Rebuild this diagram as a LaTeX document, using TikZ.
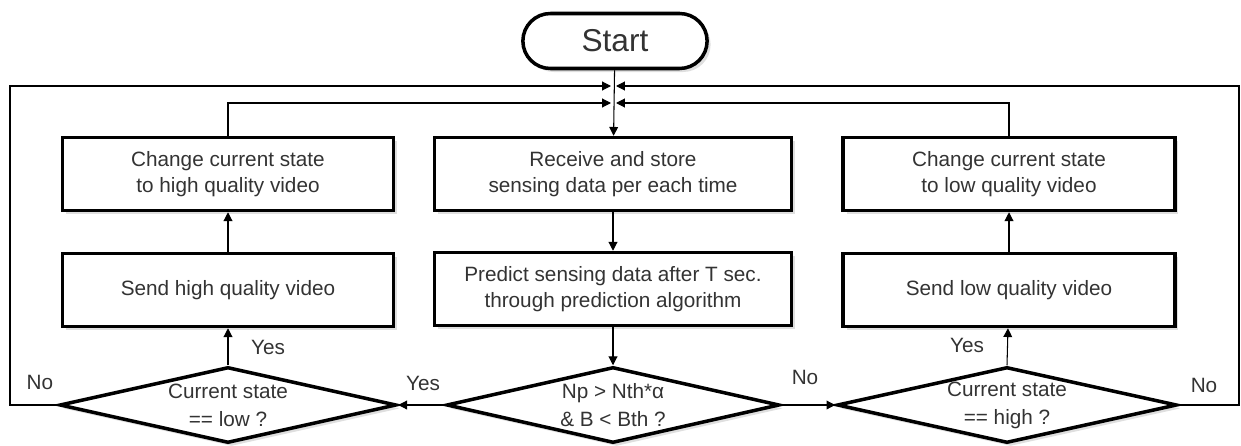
\documentclass[tikz,border=0pt]{standalone}
\usepackage{fontspec}
\setmainfont{Liberation Sans}
\usepackage{tikz}
\usetikzlibrary{arrows.meta,shapes.geometric,shapes.misc,shadows,calc}
\definecolor{inktext}{RGB}{51,51,51}
\tikzset{
  flowbox/.style={draw, line width=2pt, fill=white, minimum width=#1, minimum height=1.46cm,
    align=center, font=\fontsize{11.8}{14.5}\selectfont, text=inktext,
    drop shadow={opacity=0.25, shadow xshift=2pt, shadow yshift=-2pt}},
  decide/.style={draw, diamond, line width=2pt, fill=white, inner sep=0pt,
    minimum width=#1, minimum height=1.52cm,
    drop shadow={opacity=0.25, shadow xshift=2pt, shadow yshift=-2pt}},
  qtext/.style={align=center, font=\fontsize{11.8}{16}\selectfont, text=inktext},
  answer/.style={font=\fontsize{11.8}{14}\selectfont, text=inktext},
  flow/.style={line width=0.6pt, -{Triangle[length=5pt,width=5pt]}},
}
\begin{document}
\begin{tikzpicture}[x=0.02cm, y=-0.02cm]
  \useasboundingbox (0,0) rectangle (1241,446);

  % Start
  \node[draw, rounded rectangle, line width=2pt, fill=white, minimum width=3.92cm,
    minimum height=1.1cm, font=\fontsize{18}{20}\selectfont, text=inktext,
    drop shadow={opacity=0.25, shadow xshift=2pt, shadow yshift=-2pt}]
    (start) at (615,41) {Start};

  % Middle column
  \node[flowbox=7.14cm] (recv) at (613,174) {Receive and store\\sensing data per each time};
  \node[flowbox=7.14cm] (pred) at (613,289) {Predict sensing data after T sec.\\through prediction algorithm};
  \node[decide=6.66cm, label={[qtext]center:Np > Nth*α\\\& B < Bth ?}] (dmid) at (613,405) {};

  % Left column
  \node[flowbox=6.62cm] (chghi) at (228,174) {Change current state\\to high quality video};
  \node[flowbox=6.62cm] (sendhi) at (228,290) {Send high quality video};
  \node[decide=6.74cm, label={[qtext]center:Current state\\== low ?}] (dlow) at (228,405) {};

  % Right column
  \node[flowbox=6.64cm] (chglo) at (1009,174) {Change current state\\to low quality video};
  \node[flowbox=6.64cm] (sendlo) at (1009,290) {Send low quality video};
  \node[decide=6.8cm, label={[qtext]center:Current state\\== high ?}] (dhigh) at (1007,405) {};

  % Junction points
  \coordinate (jtopl) at (611,86);
  \coordinate (jtopr) at (616,86);
  \coordinate (jmidl) at (611,103);
  \coordinate (jmidr) at (616,103);

  % Main flow
  \draw[flow] (start) -- (recv);
  \draw[flow] (recv) -- (pred);
  \draw[flow] (pred) -- (dmid);
  \draw[flow] (dmid.west) -- (dlow.east);
  \draw[flow] (dmid.east) -- (dhigh.west);
  \draw[flow] (dlow.north) -- (sendhi);
  \draw[flow] (sendhi) -- (chghi);
  \draw[flow] (dhigh.north) -- (sendlo);
  \draw[flow] (sendlo) -- (chglo);

  % Loops back
  \draw[flow] (chghi.north) |- (jmidl);
  \draw[flow] (chglo.north) |- (jmidr);
  \draw[flow] (dlow.west) -- (10,405) |- (jtopl);
  \draw[flow] (dhigh.east) -- (1239,405) |- (jtopr);

  % Answers
  \node[answer] (nolow) at (40,382) {No};
  \node[answer] (yeslow) at (268,347) {Yes};
  \node[answer] (yesmid) at (423,383) {Yes};
  \node[answer] (nomid) at (805,377) {No};
  \node[answer] (yeshigh) at (967,345) {Yes};
  \node[answer] (nohigh) at (1204,385) {No};
\end{tikzpicture}
\end{document}
